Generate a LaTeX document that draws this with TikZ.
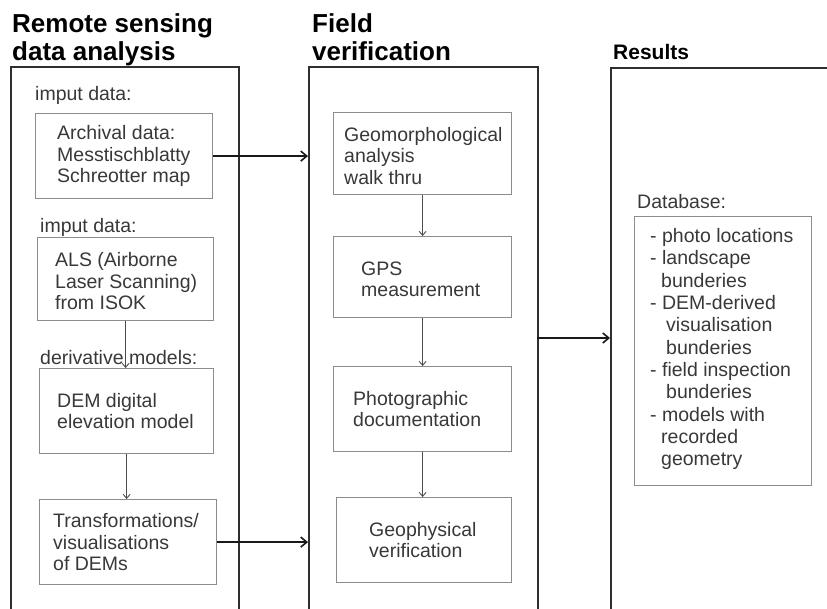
\documentclass[tikz,border=0pt]{standalone}
\usepackage{fontspec}
\setmainfont{Liberation Sans}
\usetikzlibrary{arrows.meta,calc}

\definecolor{outerline}{HTML}{2E2E2E}
\definecolor{innerline}{HTML}{8C8C8C}
\definecolor{textgray}{HTML}{383838}

\begin{document}
\begin{tikzpicture}[x=1pt,y=-1pt,
  column/.style={draw=outerline, line width=2.2pt, inner sep=0pt, anchor=north west},
  stage/.style={draw=innerline, line width=1.2pt, inner sep=0pt, anchor=north west},
  body/.style={font=\fontsize{19.5}{21.5}\selectfont, text=textgray, align=left, anchor=west, inner sep=0pt},
  dbbody/.style={body, font=\fontsize{19.5}{22.3}\selectfont},
  title/.style={font=\fontsize{26}{28}\selectfont\bfseries, text=black, align=left, anchor=north west, inner sep=0pt},
  flow/.style={draw=black!90, line width=1.8pt, -{Straight Barb[length=6pt,width=10pt,line width=1.6pt]}},
  subflow/.style={draw=black!70, line width=0.9pt, -{Straight Barb[length=4pt,width=7pt,line width=0.9pt]}},
]
\useasboundingbox (0,0) rectangle (827,609);
\clip (0,0) rectangle (827,609);

% column titles
\node[title] (t1) at (12,13) {Remote sensing\\data analysis};
\node[title] (t2) at (312,13) {Field\\verification};
\node[title, font=\fontsize{21}{24}\selectfont\bfseries] (t3) at (613,44) {Results};

% the three columns (running past the page edge)
\node[column, minimum width=228pt, minimum height=600pt] (left) at (10,66) {};
\node[column, minimum width=229pt, minimum height=600pt] (field) at (308,66) {};
\node[column, minimum width=300pt, minimum height=600pt] (res) at (610,67) {};

% remote sensing column
\node[body] (lab1) at (35,95) {imput data:};
\node[stage, minimum width=177pt, minimum height=85pt] (arch) at (35,113) {};
\node[body] (archT) at ([xshift=22pt]arch.west) {Archival data:\\Messtischblatty\\Schreotter map};

\node[body] (lab2) at (40,227) {imput data:};
\node[stage, minimum width=176pt, minimum height=83pt] (als) at (37,237) {};
\node[body] (alsT) at ([xshift=18pt,yshift=-2pt]als.west) {ALS (Airborne\\Laser Scanning)\\from ISOK};

\node[body] (lab3) at (40,358) {derivative models:};
\node[stage, minimum width=174pt, minimum height=85pt] (dem) at (39,368) {};
\node[body] (demT) at ([xshift=18pt]dem.west) {DEM digital\\elevation model};

\node[stage, minimum width=177pt, minimum height=85pt] (tr) at (39,499) {};
\node[body] (trT) at ([xshift=14pt]tr.west) {Transformations/\\visualisations\\of DEMs};

% field verification column
\node[stage, minimum width=178pt, minimum height=82pt] (geo) at (333,112) {};
\node[body] (geoT) at ([xshift=11pt,yshift=-2pt]geo.west) {Geomorphological\\analysis\\walk thru};

\node[stage, minimum width=178pt, minimum height=81pt] (gps) at (333,236) {};
\node[body] (gpsT) at ([xshift=28pt,yshift=-2pt]gps.west) {GPS\\measurement};

\node[stage, minimum width=178pt, minimum height=85pt] (photo) at (333,366) {};
\node[body] (photoT) at ([xshift=20pt]photo.west) {Photographic\\documentation};

\node[stage, minimum width=175pt, minimum height=85pt] (geoph) at (336,497) {};
\node[body] (geophT) at ([xshift=33pt]geoph.west) {Geophysical\\verification};

% results column
\node[body] (lab4) at (637,202) {Database:};
\node[stage, minimum width=177pt, minimum height=269pt] (db) at (634,216) {};
\node[dbbody] (dbT) at ([xshift=16pt,yshift=2pt]db.west) {- photo locations\\- landscape\\\hspace*{11pt}bunderies\\- DEM-derived\\\hspace*{16pt}visualisation\\\hspace*{16pt}bunderies\\- field inspection\\\hspace*{16pt}bunderies\\- models with\\\hspace*{11pt}recorded\\\hspace*{11pt}geometry};

% arrows inside the columns
\draw[subflow] (als.south) -- (als.south |- dem.north);
\draw[subflow] (dem.south) -- (dem.south |- tr.north);
\draw[subflow] (geo.south) -- (geo.south |- gps.north);
\draw[subflow] (gps.south) -- (gps.south |- photo.north);
\draw[subflow] (photo.south) -- (photo.south |- geoph.north);

% arrows between the columns
\draw[flow] (arch.east) -- (arch.east -| field.west);
\draw[flow] (tr.east) -- (tr.east -| field.west);
\coordinate (fout) at (537,338);
\draw[flow] (fout) -- (fout -| res.west);
\end{tikzpicture}
\end{document}
